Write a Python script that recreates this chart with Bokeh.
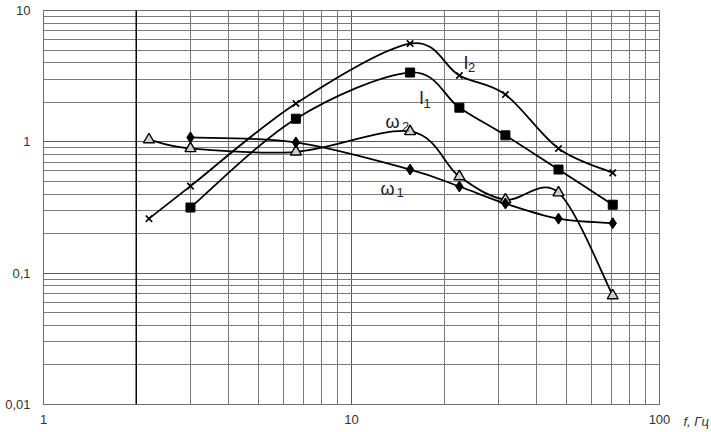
import numpy as np
from bokeh.plotting import figure
from bokeh.models import (Range1d, FixedTicker, CustomJSTickFormatter, Label, Span,
                          ColumnDataSource, LogAxis)
from bokeh.embed import file_html
from bokeh.resources import INLINE

# ---- data ----
freq = [2.2, 3.0, 6.6, 15.5, 22.4, 31.6, 47.0, 70.5]          # f, Hz
I2 = [0.26, 0.46, 1.96, 5.6, 3.2, 2.29, 0.89, 0.58]
freq_1 = freq[1:]
I1 = [0.316, 1.50, 3.37, 1.82, 1.12, 0.615, 0.332]
w2 = [1.04, 0.89, 0.84, 1.20, 0.544, 0.363, 0.41, 0.0675]
w1 = [1.08, 0.99, 0.615, 0.457, 0.339, 0.26, 0.24]

x_major = [1, 10, 100]
x_minor = [m * d for d in (1, 10) for m in range(2, 10)]
y_major = [0.01, 0.1, 1, 10]
y_minor = [m * d for d in (0.01, 0.1, 1) for m in range(2, 10)]
x_title = "f, Гц"

FONT = "Liberation Sans"
INK = "black"

p = figure(width=711, height=432, x_axis_type="log", y_axis_type="log",
           x_range=Range1d(1, 100), y_range=Range1d(0.01, 10),
           output_backend="svg", toolbar_location=None,
           frame_width=616, frame_height=394,
           min_border_left=43, min_border_top=10, min_border_right=52,
           min_border_bottom=28)
p.background_fill_color = "white"
p.border_fill_color = "white"
p.outline_line_color = "#6e6e6e"

for ax, maj, mnr, stand in ((p.xaxis[0], x_major, x_minor, 10),
                            (p.yaxis[0], y_major, y_minor, 13)):
    ax.ticker = FixedTicker(ticks=maj, minor_ticks=mnr)
    ax.formatter = CustomJSTickFormatter(
        code="return String(Number(tick.toPrecision(3))).replace('.', ',');")
    ax.major_tick_out = 0
    ax.major_tick_in = 0
    ax.minor_tick_out = 0
    ax.minor_tick_in = 0
    ax.axis_line_color = "#6e6e6e"
    ax.major_label_text_font = FONT
    ax.major_label_text_font_size = "13px"
    ax.major_label_text_color = "#333333"
    ax.major_label_standoff = stand

# x-axis title placed to the right of "100", on the label row
tax = LogAxis(ticker=FixedTicker(ticks=[y_major[0]]),
              formatter=CustomJSTickFormatter(code="return '\\u00a0\\n' + %r;" % x_title),
              axis_line_color=None, major_tick_out=0, major_tick_in=0,
              minor_tick_out=0, minor_tick_in=0, major_label_standoff=24,
              major_label_text_font=FONT, major_label_text_font_size="13px",
              major_label_text_font_style="italic", major_label_text_color="#333333",
              major_label_text_baseline="top", major_label_text_line_height=2.3)
p.add_layout(tax, "right")

for g in (p.xgrid[0], p.ygrid[0]):
    g.grid_line_color = "#5a5a5a"
    g.grid_line_width = 1
    g.minor_grid_line_color = "#7a7a7a"
    g.minor_grid_line_width = 1

p.add_layout(Span(location=2, dimension="height", line_color="black", line_width=1.4))


def smooth(xs, ys, t=1/6):
    lx = np.log10(np.asarray(xs, float))
    ly = np.log10(np.asarray(ys, float))
    n = len(lx)
    d = dict(x0=[], y0=[], x1=[], y1=[], cx0=[], cy0=[], cx1=[], cy1=[])
    for i in range(n - 1):
        a = max(i - 1, 0)
        b = min(i + 2, n - 1)
        d["x0"].append(10 ** lx[i]); d["y0"].append(10 ** ly[i])
        d["x1"].append(10 ** lx[i + 1]); d["y1"].append(10 ** ly[i + 1])
        d["cx0"].append(10 ** (lx[i] + (lx[i + 1] - lx[a]) * t))
        d["cy0"].append(10 ** (ly[i] + (ly[i + 1] - ly[a]) * t))
        d["cx1"].append(10 ** (lx[i + 1] - (lx[b] - lx[i]) * t))
        d["cy1"].append(10 ** (ly[i + 1] - (ly[b] - ly[i]) * t))
    return ColumnDataSource(d)


for xs, ys in ((freq, I2), (freq_1, I1), (freq, w2), (freq_1, w1)):
    p.bezier(x0="x0", y0="y0", x1="x1", y1="y1", cx0="cx0", cy0="cy0",
             cx1="cx1", cy1="cy1", source=smooth(xs, ys), line_color=INK, line_width=1.8)

p.scatter(freq, I2, marker="x", size=9, line_color=INK, line_width=1.7)
p.scatter(freq_1, I1, marker="square", size=9, line_color=INK, fill_color=INK)
p.scatter(freq, w2, marker="triangle", size=11, line_color=INK, fill_color="#d0d0d0",
          line_width=1.4)
p.scatter(freq_1, w1, marker="diamond", size=11, line_color=INK, fill_color=INK)


def lab(x, y, text, size, **kw):
    p.add_layout(Label(x=x, y=y, text=text, text_font=FONT, text_font_size=size,
                       text_color="#222222", text_baseline="alphabetic",
                       text_align="left", **kw))


# series labels: main letter + subscript
lab(23.1, 3.95, "I", "18px"); lab(23.9, 3.68, "2", "13px")
lab(16.57, 2.175, "I", "18px"); lab(17.13, 1.957, "1", "13px")
lab(12.89, 1.428, "ω", "18px"); lab(14.58, 1.307, "2", "13px")
lab(12.43, 0.4407, "ω", "18px"); lab(14.0, 0.411, "1", "13px")

open("out.html", "w").write(file_html(p, INLINE))
